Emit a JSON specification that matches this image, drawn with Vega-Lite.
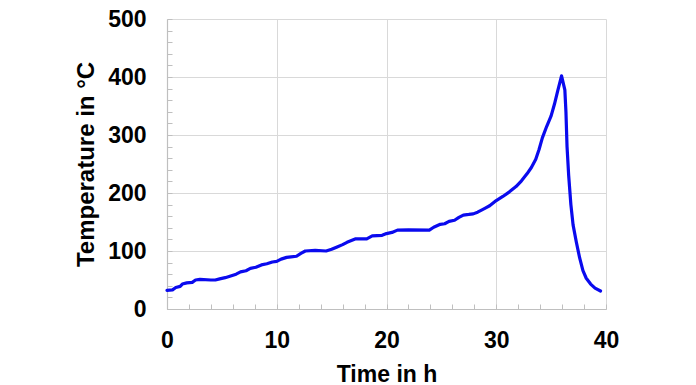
{
  "$schema": "https://vega.github.io/schema/vega-lite/v6.json",
  "width": 439,
  "height": 290,
  "autosize": {"type": "none"},
  "padding": {"left": 167, "top": 19, "right": 90, "bottom": 76},
  "background": "white",
  "config": {
    "view": {"stroke": null},
    "axis": {
      "labelFont": "Liberation Sans",
      "titleFont": "Liberation Sans",
      "labelFontSize": 23,
      "titleFontSize": 23,
      "labelFontWeight": "bold",
      "titleFontWeight": "bold",
      "labelColor": "black",
      "titleColor": "black",
      "gridColor": "#d9d9d9",
      "gridWidth": 1,
      "domainColor": "#bfbfbf",
      "domainWidth": 1.2,
      "tickColor": "#bfbfbf",
      "tickSize": -5,
      "labelOverlap": false,
      "labelBound": false,
      "labelFlush": false
    }
  },
  "data": {
    "values": [
      {"t": 0, "T": 32}, {"t": 0.5, "T": 33}, {"t": 0.8, "T": 37}, {"t": 1.2, "T": 39},
      {"t": 1.4, "T": 43}, {"t": 1.8, "T": 45}, {"t": 2.3, "T": 46}, {"t": 2.6, "T": 50},
      {"t": 3.0, "T": 51}, {"t": 4.0, "T": 50}, {"t": 4.4, "T": 50}, {"t": 4.8, "T": 52},
      {"t": 5.3, "T": 54}, {"t": 5.8, "T": 57}, {"t": 6.3, "T": 60}, {"t": 6.7, "T": 64},
      {"t": 7.2, "T": 66}, {"t": 7.6, "T": 70}, {"t": 8.1, "T": 72}, {"t": 8.6, "T": 76},
      {"t": 9.1, "T": 78}, {"t": 9.6, "T": 81}, {"t": 10.0, "T": 82}, {"t": 10.4, "T": 86},
      {"t": 10.9, "T": 89}, {"t": 11.3, "T": 90}, {"t": 11.8, "T": 91}, {"t": 12.2, "T": 96},
      {"t": 12.6, "T": 100}, {"t": 13.5, "T": 101}, {"t": 14.5, "T": 100}, {"t": 15.0, "T": 103},
      {"t": 15.5, "T": 107}, {"t": 16.0, "T": 111}, {"t": 16.4, "T": 115}, {"t": 16.8, "T": 118},
      {"t": 17.2, "T": 121}, {"t": 18.2, "T": 121}, {"t": 18.7, "T": 126}, {"t": 19.6, "T": 127},
      {"t": 20.0, "T": 130}, {"t": 20.5, "T": 132}, {"t": 21.0, "T": 136}, {"t": 22.0, "T": 136.5},
      {"t": 23.9, "T": 136}, {"t": 24.3, "T": 141}, {"t": 24.9, "T": 146}, {"t": 25.3, "T": 147},
      {"t": 25.7, "T": 151}, {"t": 26.2, "T": 153}, {"t": 26.6, "T": 158}, {"t": 27.0, "T": 162},
      {"t": 27.5, "T": 163}, {"t": 27.9, "T": 164}, {"t": 28.3, "T": 167}, {"t": 28.7, "T": 171},
      {"t": 29.0, "T": 174}, {"t": 29.4, "T": 178}, {"t": 30.0, "T": 187}, {"t": 30.6, "T": 194},
      {"t": 31.2, "T": 202}, {"t": 31.8, "T": 211}, {"t": 32.3, "T": 221}, {"t": 32.8, "T": 233},
      {"t": 33.2, "T": 244}, {"t": 33.6, "T": 258}, {"t": 33.9, "T": 275}, {"t": 34.2, "T": 295},
      {"t": 34.6, "T": 315}, {"t": 35.0, "T": 333}, {"t": 35.3, "T": 353}, {"t": 35.6, "T": 376},
      {"t": 35.95, "T": 402}, {"t": 36.25, "T": 378}, {"t": 36.35, "T": 340}, {"t": 36.45, "T": 280},
      {"t": 36.6, "T": 230}, {"t": 36.8, "T": 180}, {"t": 37.0, "T": 145}, {"t": 37.3, "T": 115},
      {"t": 37.6, "T": 88}, {"t": 37.9, "T": 66}, {"t": 38.2, "T": 53}, {"t": 38.6, "T": 43},
      {"t": 39.0, "T": 36}, {"t": 39.5, "T": 31}
    ]
  },
  "mark": {"type": "line", "color": "#0a0aee", "strokeWidth": 3.2, "strokeJoin": "round", "strokeCap": "round"},
  "encoding": {
    "x": {
      "field": "t", "type": "quantitative",
      "scale": {"domain": [0, 40], "nice": false},
      "axis": {
        "title": "Time in h",
        "values": [0,2,4,6,8,10,12,14,16,18,20,22,24,26,28,30,32,34,36,38,40],
        "labelExpr": "datum.value % 10 == 0 ? datum.label : ''",
        "gridOpacity": {"condition": {"test": "datum.value % 10 == 0", "value": 1}, "value": 0},
        "labelPadding": 25,
        "titlePadding": 11
      }
    },
    "y": {
      "field": "T", "type": "quantitative",
      "scale": {"domain": [0, 500], "nice": false},
      "axis": {
        "title": "Temperature in °C",
        "titleFontSize": 24,
        "values": [0,20,40,60,80,100,120,140,160,180,200,220,240,260,280,300,320,340,360,380,400,420,440,460,480,500],
        "labelExpr": "datum.value % 100 == 0 ? datum.label : ''",
        "gridOpacity": {"condition": {"test": "datum.value % 100 == 0", "value": 1}, "value": 0},
        "labelPadding": 26,
        "titlePadding": 9
      }
    }
  }
}
